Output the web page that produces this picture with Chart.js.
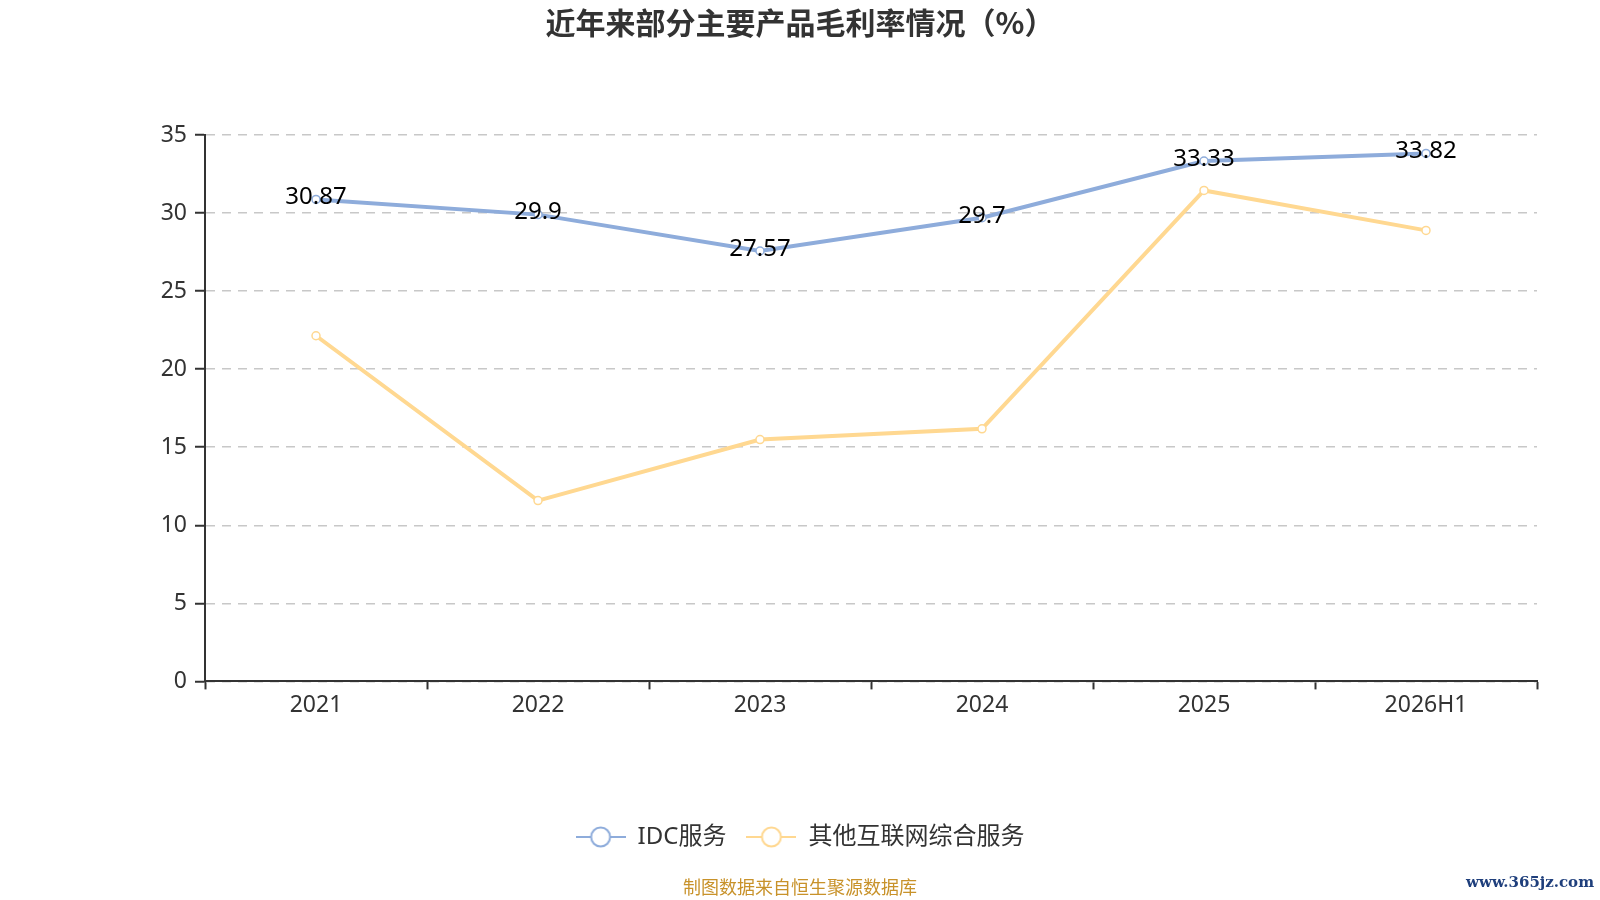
<!DOCTYPE html>
<html>
<head>
<meta charset="utf-8">
<script src="https://cdn.jsdelivr.net/npm/chart.js@4.4.1/dist/chart.umd.min.js"></script>
<style>
    html, body { margin: 0; padding: 0; background: #fff; }
    #wrap { width: 1600px; height: 900px; position: relative; }
</style>
</head>
<body>
<div id="wrap"><canvas id="marginChart"></canvas></div>
<script>
const years = ['2021', '2022', '2023', '2024', '2025', '2026H1'];
const idcMargin = [30.87, 29.9, 27.57, 29.7, 33.33, 33.82];
const otherMargin = [22.14, 11.58, 15.49, 16.18, 31.45, 28.89];
const seriesNames = ['IDC服务', '其他互联网综合服务'];
const yMin = 0;
const yMax = 35;
const yStep = 5;

const blue = '#8eacdb';
const yellow = '#ffd891';
const fontFamily = "'Noto Sans', 'Noto Sans CJK SC', sans-serif";

// little line-with-circle icons for the legend
function legendIcon(color) {
    const c = document.createElement('canvas');
    c.width = 50;
    c.height = 26;
    const g = c.getContext('2d');
    g.strokeStyle = color;
    g.lineWidth = 2;
    g.beginPath();
    g.moveTo(0, 13);
    g.lineTo(50, 13);
    g.stroke();
    g.beginPath();
    g.arc(25, 13, 9.5, 0, Math.PI * 2);
    g.fillStyle = '#fff';
    g.fill();
    g.stroke();
    return c;
}
const icons = [legendIcon(blue), legendIcon(yellow)];

const valueLabels = {
    id: 'valueLabels',
    afterDatasetsDraw(chart) {
        const ctx = chart.ctx;
        const meta = chart.getDatasetMeta(0);
        ctx.save();
        ctx.font = '24px ' + fontFamily;
        ctx.fillStyle = '#000';
        ctx.textAlign = 'center';
        ctx.textBaseline = 'middle';
        meta.data.forEach((pt, i) => {
            ctx.fillText(String(idcMargin[i]), pt.x, pt.y - 2);
        });
        ctx.restore();
    }
};

const footer = {
    id: 'footer',
    afterDraw(chart) {
        const ctx = chart.ctx;
        ctx.save();
        ctx.textBaseline = 'middle';
        ctx.textAlign = 'center';
        ctx.font = '18px ' + fontFamily;
        ctx.fillStyle = '#c8922a';
        ctx.fillText('制图数据来自恒生聚源数据库', 800, 889);
        ctx.textAlign = 'right';
        ctx.font = 'bold 15px "DejaVu Serif", serif';
        ctx.fillStyle = '#1f3f7c';
        ctx.fillText('www.365jz.com', 1594, 883);
        ctx.restore();
    }
};

const ctx = document.getElementById('marginChart').getContext('2d');
new Chart(ctx, {
    type: 'line',
    data: {
        labels: years,
        datasets: [
            {
                label: seriesNames[0],
                data: idcMargin,
                borderColor: blue,
                borderWidth: 4,
                pointRadius: 4,
                pointBorderWidth: 1.5,
                pointBackgroundColor: '#fff',
                pointBorderColor: blue,
                tension: 0
            },
            {
                label: seriesNames[1],
                data: otherMargin,
                borderColor: yellow,
                borderWidth: 4,
                pointRadius: 4,
                pointBorderWidth: 1.5,
                pointBackgroundColor: '#fff',
                pointBorderColor: yellow,
                tension: 0
            }
        ]
    },
    options: {
        responsive: true,
        maintainAspectRatio: false,
        animation: false,
        layout: {
            padding: { left: 0, right: 0, top: 0, bottom: 41 }
        },
        plugins: {
            title: {
                display: true,
                text: '近年来部分主要产品毛利率情况（%）',
                color: '#333',
                font: { size: 30, weight: 'bold', family: "'Noto Sans CJK SC', 'Noto Sans', sans-serif", lineHeight: 1.2 },
                padding: { top: 5, bottom: 94 }
            },
            legend: {
                position: 'bottom',
                labels: {
                    color: '#333',
                    font: { size: 24, family: fontFamily },
                    usePointStyle: true,
                    pointStyleWidth: 50,
                    padding: 20,
                    generateLabels(chart) {
                        const items = Chart.defaults.plugins.legend.labels.generateLabels(chart);
                        items.forEach((item, i) => { item.pointStyle = icons[i]; });
                        return items;
                    }
                }
            },
            tooltip: { enabled: false }
        },
        scales: {
            x: {
                offset: true,
                grid: {
                    offset: true,
                    drawOnChartArea: false,
                    tickLength: 8,
                    tickWidth: 2,
                    tickColor: '#333'
                },
                border: { color: '#333', width: 2 },
                ticks: {
                    color: '#333',
                    padding: 2,
                    font: { size: 23, family: fontFamily }
                },
                afterFit(scale) { scale.height += 84; }
            },
            y: {
                min: yMin,
                max: yMax,
                grid: {
                    color: '#c8c8c8',
                    lineWidth: 1.5,
                    tickLength: 10,
                    tickWidth: 2,
                    tickColor: '#333'
                },
                border: { color: '#333', width: 2, dash: [9, 7] },
                ticks: {
                    stepSize: yStep,
                    color: '#333',
                    padding: 8,
                    font: { size: 23, family: fontFamily }
                },
                afterFit(scale) { scale.width = 205; }
            },
            // empty right-hand axis, only keeps the right margin
            yRight: {
                position: 'right',
                display: true,
                grid: { display: false },
                border: { display: false },
                ticks: { display: false },
                afterFit(scale) { scale.width = 63; }
            }
        }
    },
    plugins: [valueLabels, footer]
});
</script>
</body>
</html>
